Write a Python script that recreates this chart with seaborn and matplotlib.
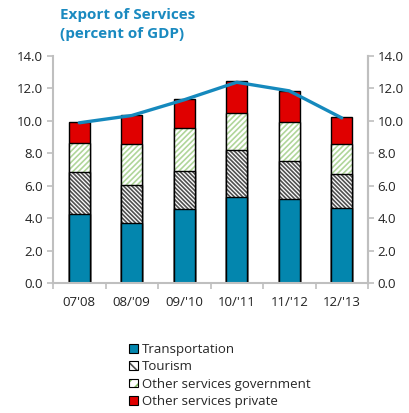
import numpy as np
import pandas as pd
import matplotlib
matplotlib.use("Agg")
import matplotlib.pyplot as plt
import matplotlib.colors as mcolors
from matplotlib.patches import Patch
import seaborn as sns

# Fiscal years and export-of-services components (percent of GDP)
years = ["07'08", "08/'09", "09/'10", "10/'11", "11/'12", "12/'13"]
transportation = [4.28, 3.68, 4.55, 5.29, 5.17, 4.61]
tourism = [2.55, 2.39, 2.35, 2.92, 2.36, 2.14]
gov_services = [1.83, 2.53, 2.69, 2.30, 2.39, 1.85]
private_services = [1.24, 1.77, 1.77, 1.96, 1.95, 1.63]
total_line = [9.88, 10.33, 11.30, 12.38, 11.85, 10.18]
yticks = [0, 2, 4, 6, 8, 10, 12, 14]

series_names = ["Transportation", "Tourism", "Other services government",
                "Other services private"]

C_TRANS = "#0386AE"
C_TOUR_HATCH = "#505050"
C_GOV_HATCH = "#b0d69a"
C_PRIV = "#E00000"
C_LINE = "#1589BD"
C_TITLE = "#1A8AC0"
C_SPINE = "#BFBFBF"

HATCH_TOUR = "\\" * 8
HATCH_GOV = "/" * 6

sns.set_theme(style="white")
plt.rcParams["font.family"] = ["Open Sans", "DejaVu Sans"]
plt.rcParams["hatch.linewidth"] = 1.2

fig = plt.figure(figsize=(4.09, 4.13), dpi=100)
ax = fig.add_axes([53 / 409, 1 - 283 / 413, 315 / 409, 227 / 413])

df = pd.DataFrame({
    "year": years,
    "trans": transportation,
    "tour": tourism,
    "gov": gov_services,
    "priv": private_services,
})
df["c1"] = df["trans"]
df["c2"] = df["c1"] + df["tour"]
df["c3"] = df["c2"] + df["gov"]
df["c4"] = df["c3"] + df["priv"]

# Stacked bars: draw cumulative totals from the top layer down
layers = [
    ("c4", C_PRIV, None, None),
    ("c3", "white", HATCH_GOV, C_GOV_HATCH),
    ("c2", "white", HATCH_TOUR, C_TOUR_HATCH),
    ("c1", C_TRANS, None, None),
]
for col, face, hatch, hcolor in layers:
    n_before = len(ax.patches)
    sns.barplot(data=df, x="year", y=col, color=face, saturation=1, width=0.4,
                edgecolor="black", linewidth=1.0, hatch=hatch, ax=ax,
                errorbar=None)
    if hatch is not None:
        for p in ax.patches[n_before:]:
            p._hatch_color = mcolors.to_rgba(hcolor)
            p.stale = True

sns.lineplot(x=np.arange(len(years)), y=total_line, color=C_LINE, linewidth=2.4,
             ax=ax, zorder=5)

ax.set_xlim(-0.5, len(years) - 0.5)
ax.set_ylim(0, 14)
ax.set_yticks(yticks)
ax.set_yticklabels([f"{v:.1f}" for v in yticks])
ax.set_xlabel("")
ax.set_ylabel("")
ax.set_xticks(np.arange(len(years)))
ax.set_xticklabels(years)
ax.set_xticks(np.arange(len(years) + 1) - 0.5, minor=True)
ax.tick_params(axis="x", which="major", length=0, pad=9, labelsize=9.5,
               labelcolor="#222222")
ax.tick_params(axis="x", which="minor", length=4, width=1.2, color=C_SPINE,
               direction="out", bottom=True)
ax.tick_params(axis="y", length=4, width=1.2, color=C_SPINE, direction="out",
               left=True, labelsize=9.5, labelcolor="#222222", pad=3)

ax.spines["top"].set_visible(False)
for side in ["left", "bottom", "right"]:
    ax.spines[side].set_visible(True)
    ax.spines[side].set_color(C_SPINE)
    ax.spines[side].set_linewidth(1.5)

ax2 = ax.twinx()
ax2.set_ylim(0, 14)
ax2.set_yticks(yticks)
ax2.set_yticklabels([f"{v:.1f}" for v in yticks])
ax2.tick_params(axis="y", length=4, width=1.2, color=C_SPINE, direction="out",
                right=True, labelsize=9.5, labelcolor="#222222", pad=3)
for side in ["top", "left", "bottom"]:
    ax2.spines[side].set_visible(False)
ax2.spines["right"].set_color(C_SPINE)
ax2.spines["right"].set_linewidth(1.5)
ax2.grid(False)
ax.grid(False)

fig.text(60 / 409, 1 - 8 / 413, "Export of Services\n(percent of GDP)",
         ha="left", va="top", fontsize=11, fontweight="bold", color=C_TITLE,
         linespacing=1.45)

handles = [
    Patch(facecolor=C_TRANS, edgecolor="black", linewidth=0.8),
    Patch(facecolor="white", edgecolor="black", linewidth=0.8, hatch="\\\\\\"),
    Patch(facecolor="white", edgecolor="black", linewidth=0.8, hatch="///"),
    Patch(facecolor=C_PRIV, edgecolor="black", linewidth=0.8),
]
handles[1]._hatch_color = mcolors.to_rgba(C_TOUR_HATCH)
handles[2]._hatch_color = mcolors.to_rgba("#7fb85e")
fig.legend(handles, series_names, loc="upper left",
           bbox_to_anchor=(129 / 409, 1 - 343 / 413), frameon=False,
           fontsize=9.5, handlelength=0.65, handleheight=0.65, handletextpad=0.3,
           labelspacing=0.33, borderaxespad=0, borderpad=0)

fig.savefig("out.png", dpi=100, facecolor="white")
